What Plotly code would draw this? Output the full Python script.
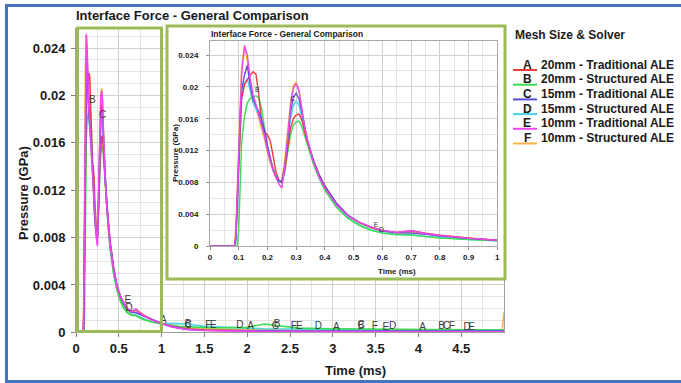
import plotly.graph_objects as go

W, H = 681, 383

# ---------------- data ----------------
time_ms = [0, 0.085, 0.09, 0.095, 0.10, 0.105, 0.11, 0.12, 0.13, 0.14, 0.15, 0.16, 0.17, 0.18, 0.19,
           0.20, 0.21, 0.22, 0.23, 0.24, 0.25, 0.26, 0.27, 0.28, 0.29, 0.30, 0.31, 0.32, 0.33, 0.34,
           0.36, 0.38, 0.40, 0.44, 0.48, 0.52, 0.56, 0.60, 0.65, 0.70, 0.75, 0.80, 0.90, 1.00,
           1.1, 1.2, 1.3, 1.5, 1.75, 2.0, 2.2, 2.4, 2.6, 3.0, 3.5, 4.0, 4.5, 4.98, 5.0]

# pressure in units of 1e-3 GPa
p_A = [0, 0, 1, 5, 10, 15, 18.5, 20.3, 21.0, 21.5, 21.9, 21.6, 19.0, 15.5, 14.3,
       14.0, 13.2, 11.0, 9.3, 8.3, 8.0, 9.5, 12.0, 14.8, 16.0, 16.5, 16.6, 15.8, 14.3, 13.0,
       10.8, 9.0, 7.6, 5.4, 3.9, 3.0, 2.4, 1.95, 1.75, 1.95, 1.65, 1.4, 1.05, 0.75,
       0.55, 0.4, 0.28, 0.18, 0.13, 0.1, 0.09, 0.07, 0.06, 0.05, 0.05, 0.05, 0.05, 0.05, 0.05]
p_B = [0, 0, 0, 0, 2, 8, 13, 16.3, 18.0, 18.6, 18.8, 18.9, 18.6, 17.2, 14.8,
       12.5, 11.0, 9.8, 8.7, 8.1, 8.0, 9.3, 11.8, 14.0, 15.2, 15.6, 15.7, 15.0, 13.8, 12.6,
       10.3, 8.5, 7.0, 4.9, 3.5, 2.6, 2.0, 1.65, 1.45, 1.4, 1.2, 1.05, 0.85, 0.7,
       0.6, 0.5, 0.45, 0.4, 0.38, 0.42, 0.7, 0.5, 0.35, 0.3, 0.28, 0.25, 0.22, 0.2, 0.2]
p_C = [0, 0, 1, 5, 11, 16.5, 19.5, 21.5, 22.7, 20.2, 18.4, 17.6, 16.9, 15.8, 14.6,
       12.6, 11.0, 9.6, 8.7, 8.2, 8.1, 10.0, 13.2, 16.8, 18.7, 19.2, 18.5, 16.6, 14.7, 13.2,
       10.8, 8.9, 7.5, 5.4, 3.9, 3.0, 2.4, 1.95, 1.7, 1.65, 1.5, 1.3, 1.0, 0.75,
       0.5, 0.35, 0.25, 0.17, 0.14, 0.12, 0.12, 0.11, 0.1, 0.1, 0.1, 0.1, 0.1, 0.1, 0.1]
p_D = [0, 0, 0.5, 4, 10, 15.5, 18.5, 20.5, 21.0, 19.5, 18.0, 17.2, 16.4, 15.2, 13.9,
       12.2, 10.8, 9.5, 8.6, 8.1, 8.0, 9.8, 12.8, 16.0, 17.7, 18.2, 17.7, 16.0, 14.4, 13.0,
       10.6, 8.7, 7.2, 5.1, 3.6, 2.7, 2.1, 1.7, 1.5, 1.45, 1.25, 1.1, 0.85, 0.7,
       0.75, 0.75, 0.7, 0.5, 0.4, 0.35, 0.3, 0.3, 0.28, 0.25, 0.22, 0.2, 0.2, 0.18, 0.18]
p_E = [0, 0, 1.5, 6, 12, 17, 21.5, 25.2, 24.0, 21.0, 19.0, 17.8, 16.5, 15.2, 13.8,
       12.0, 10.6, 9.5, 8.6, 7.8, 7.3, 10.0, 13.5, 17.5, 19.8, 20.4, 19.5, 17.0, 14.8, 13.2,
       10.6, 8.7, 7.3, 5.2, 3.8, 3.0, 2.45, 2.0, 1.75, 1.95, 1.6, 1.35, 1.0, 0.75,
       0.5, 0.35, 0.24, 0.15, 0.1, 0.08, 0.07, 0.06, 0.06, 0.05, 0.05, 0.05, 0.05, 0.05, 0.05]
p_F = [0, 0, 2.5, 8, 14, 19, 22.5, 25.0, 23.2, 20.5, 18.5, 17.3, 16.0, 14.8, 13.4,
       11.8, 10.4, 9.4, 8.6, 8.1, 8.3, 10.8, 14.2, 18.0, 20.2, 20.6, 19.6, 17.2, 14.9, 13.2,
       10.5, 8.6, 7.2, 5.1, 3.7, 2.9, 2.3, 1.9, 1.65, 1.8, 1.6, 1.4, 1.0, 0.78,
       0.6, 0.45, 0.35, 0.28, 0.25, 0.22, 0.2, 0.2, 0.2, 0.2, 0.2, 0.2, 0.2, 0.2, 1.7]

series_keys = ["A", "B", "C", "D", "E", "F"]
series_desc = ["20mm - Traditional ALE", "20mm - Structured ALE", "15mm - Traditional ALE",
               "15mm - Structured ALE", "10mm - Traditional ALE", "10mm - Structured ALE"]
series_vals = {"A": p_A, "B": p_B, "C": p_C, "D": p_D, "E": p_E, "F": p_F}
series_color = {"A": "#EE3B3B", "B": "#3CDC50", "C": "#5A4FDC", "D": "#48D4E8",
                "E": "#F046F0", "F": "#F8B440"}
draw_order = ["F", "D", "B", "A", "C", "E"]

# curve letter labels (time ms, pressure 1e-3 GPa, letter)
main_lbl_t = [0.19, 0.31, 0.605, 0.62, 1.02, 1.31, 1.31, 1.545, 1.605, 1.915, 2.04, 2.33, 2.35,
              2.545, 2.61, 2.83, 3.04, 3.33, 3.33, 3.49, 3.62, 3.70, 4.05, 4.27, 4.33, 4.39,
              4.57, 4.62, 5.03]
main_lbl_v = [19.6, 18.3, 2.7, 2.0, 1.0, 0.62, 0.55, 0.6, 0.55, 0.6, 0.5, 0.45, 0.7,
              0.5, 0.45, 0.5, 0.4, 0.5, 0.55, 0.45, 0.4, 0.5, 0.4, 0.5, 0.45, 0.45,
              0.4, 0.4, 1.45]
main_lbl_s = ["B", "C", "E", "D", "A", "B", "C", "F", "E", "D", "A", "C", "B",
              "F", "E", "D", "A", "B", "C", "F", "E", "D", "A", "B", "C", "F",
              "D", "E", "F"]
inset_lbl_t = [0.165, 0.288, 0.578, 0.597, 1.008]
inset_lbl_v = [19.6, 18.5, 2.7, 2.0, 0.9]
inset_lbl_s = ["B", "C", "E", "D", "A"]

main_xticks = [0, 0.5, 1, 1.5, 2, 2.5, 3, 3.5, 4, 4.5]
main_xtext = ["0", "0.5", "1", "1.5", "2", "2.5", "3", "3.5", "4", "4.5"]
yticks = [0, 0.004, 0.008, 0.012, 0.016, 0.02, 0.024]
ytext = ["0", "0.004", "0.008", "0.012", "0.016", "0.02", "0.024"]
inset_xticks = [0, 0.1, 0.2, 0.3, 0.4, 0.5, 0.6, 0.7, 0.8, 0.9, 1]
inset_xtext = ["0", "0.1", "0.2", "0.3", "0.4", "0.5", "0.6", "0.7", "0.8", "0.9", "1"]

# ---------------- figure ----------------
FONT = "Liberation Sans, Arial, sans-serif"
GREEN = "#9BBB59"
BLUE = "#4472C4"


def px(x):
    return x / W


def py(y):
    return 1 - y / H


fig = go.Figure()
for k in draw_order:
    ys = [v / 1000 for v in series_vals[k]]
    fig.add_trace(go.Scatter(x=time_ms, y=ys, mode="lines", xaxis="x", yaxis="y",
                             line=dict(color=series_color[k], width=1.6), showlegend=False,
                             hoverinfo="skip"))
fig.add_trace(go.Scatter(x=main_lbl_t, y=[v / 1000 for v in main_lbl_v], text=main_lbl_s,
                         mode="text", xaxis="x", yaxis="y", cliponaxis=False, showlegend=False,
                         textfont=dict(family=FONT, size=10, color="#3a3a3a")))

inset_t = [t for t in time_ms if t <= 1.0]
n_in = len(inset_t)
for k in draw_order:
    ys = [v / 1000 for v in series_vals[k][:n_in]]
    fig.add_trace(go.Scatter(x=inset_t, y=ys, mode="lines", xaxis="x2", yaxis="y2",
                             line=dict(color=series_color[k], width=1.4), showlegend=False,
                             hoverinfo="skip"))
fig.add_trace(go.Scatter(x=inset_lbl_t, y=[v / 1000 for v in inset_lbl_v], text=inset_lbl_s,
                         mode="text", xaxis="x2", yaxis="y2", cliponaxis=False, showlegend=False,
                         textfont=dict(family=FONT, size=7, color="#3a3a3a")))

main_tickfont = dict(family=FONT, size=13, color="#1a1a1a", weight="bold")
inset_tickfont = dict(family=FONT, size=8, color="#1a1a1a", weight="bold")

fig.update_layout(
    width=W, height=H, autosize=False,
    margin=dict(l=0, r=0, t=0, b=0),
    paper_bgcolor="white", plot_bgcolor="white",
    showlegend=False,
    xaxis=dict(domain=[px(76), px(504)], range=[0, 5], anchor="y", automargin=False,
               tickvals=main_xticks, ticktext=main_xtext, tickfont=main_tickfont,
               showgrid=True, gridcolor="#cfcfcf", gridwidth=1, zeroline=False,
               minor=dict(dtick=0.25, showgrid=True, gridcolor="#e3e3e3"),
               showline=True, linecolor="#a0a0a0", ticks="outside", ticklen=4,
               tickcolor="#808080"),
    yaxis=dict(domain=[py(332.3), py(28)], range=[0, 0.0257], anchor="x", automargin=False,
               tickvals=yticks, ticktext=ytext, tickfont=main_tickfont,
               showgrid=True, gridcolor="#cfcfcf", zeroline=False,
               minor=dict(dtick=0.001, showgrid=True, gridcolor="#e3e3e3"),
               showline=True, linecolor="#a0a0a0", mirror=True, ticks="outside", ticklen=4,
               tickcolor="#808080", ticklabelstandoff=3),
    xaxis2=dict(domain=[px(210), px(497.3)], range=[0, 1], anchor="y2", automargin=False,
                tickvals=inset_xticks, ticktext=inset_xtext, tickfont=inset_tickfont,
                showgrid=True, gridcolor="#cfcfcf", zeroline=False,
                minor=dict(dtick=0.05, showgrid=True, gridcolor="#e6e6e6"),
                showline=True, linecolor="#a8a8a8", mirror=True, ticks="outside", ticklen=3,
                tickcolor="#909090"),
    yaxis2=dict(domain=[py(246.3), py(40.7)], range=[0, 0.0258], anchor="x2", automargin=False,
                tickvals=yticks, ticktext=ytext, tickfont=inset_tickfont,
                showgrid=True, gridcolor="#cfcfcf", zeroline=False,
                minor=dict(dtick=0.002, showgrid=True, gridcolor="#e6e6e6"),
                showline=True, linecolor="#a8a8a8", mirror=True, ticks="outside", ticklen=3,
                tickcolor="#909090", ticklabelstandoff=6),
)

shapes = []
# white panel under the inset (covers main grid)
shapes.append(dict(type="rect", xref="x", yref="y", layer="between",
                   x0=(167 - 76) / 85.6, x1=5.0, y0=(332.3 - 279) / 11.84 / 1000, y1=0.0257,
                   fillcolor="white", line=dict(width=0)))
# inset frame
shapes.append(dict(type="rect", xref="paper", yref="paper", layer="above",
                   x0=px(167), x1=px(505), y0=py(279), y1=py(26),
                   line=dict(color=GREEN, width=3), fillcolor="rgba(0,0,0,0)"))
# zoom box in main plot
shapes.append(dict(type="rect", xref="paper", yref="paper", layer="above",
                   x0=px(77.5), x1=px(161.5), y0=py(331.5), y1=py(28),
                   line=dict(color=GREEN, width=3), fillcolor="rgba(0,0,0,0)"))
# outer blue border
shapes.append(dict(type="rect", xref="paper", yref="paper", layer="above",
                   x0=px(6.5), x1=px(690), y0=py(381.5), y1=py(5.5),
                   line=dict(color=BLUE, width=3), fillcolor="rgba(0,0,0,0)"))

annotations = []


def ann(text, x, y, size, xanchor="left", angle=0, color="#1a1a1a"):
    annotations.append(dict(text=text, x=px(x), y=py(y), xref="paper", yref="paper",
                            xanchor=xanchor, yanchor="middle", showarrow=False, textangle=angle,
                            font=dict(family=FONT, size=size, color=color, weight="bold")))


ann("Interface Force - General Comparison", 74, 15.7, 13)
ann("Interface Force - General Comparison", 209, 34.3, 8.5)
ann("Pressure (GPa)", 23, 193, 13, xanchor="center", angle=-90)
ann("Time (ms)", 355, 370.5, 13, xanchor="center")
ann("Pressure (GPa)", 175, 153, 8, xanchor="center", angle=-90)
ann("Time (ms)", 397, 271.7, 8, xanchor="center")
ann("Mesh Size & Solver", 513, 35, 12)

row0, drow = 64.5, 14.7
for i, k in enumerate(series_keys):
    yr = row0 + i * drow
    ann(k, 527, yr, 12, xanchor="center")
    ann(series_desc[i], 539, yr, 12)
    shapes.append(dict(type="line", xref="paper", yref="paper", layer="above",
                       x0=px(513), x1=px(537), y0=py(yr + 5.5), y1=py(yr + 5.5),
                       line=dict(color=series_color[k], width=2)))

fig.update_layout(shapes=shapes, annotations=annotations)
fig.write_html("out.html")
